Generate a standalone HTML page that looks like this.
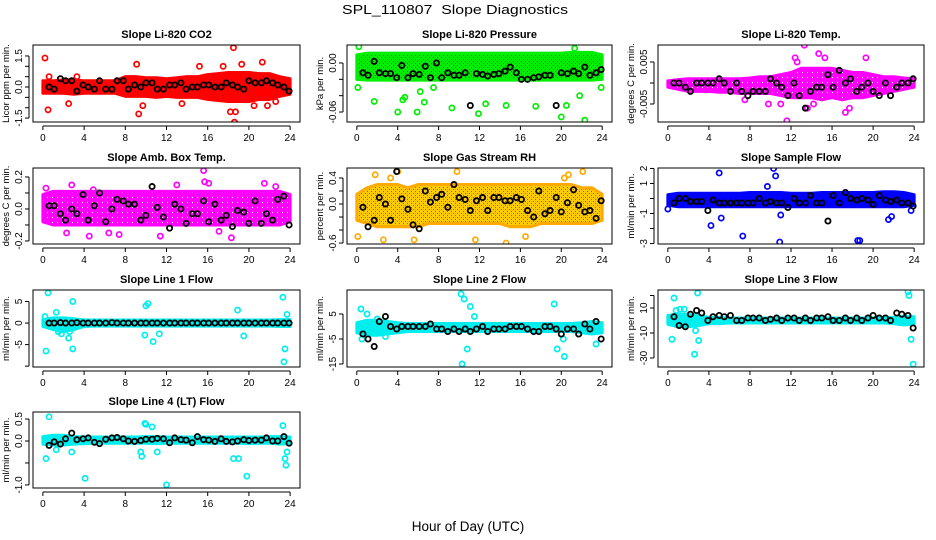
<!DOCTYPE html>
<html><head><meta charset="utf-8"><style>
html,body{margin:0;padding:0;background:#fff}
svg{display:block;font-family:"Liberation Sans",sans-serif}
</style></head><body>
<svg id="chart" width="936" height="540" viewBox="0 0 936 540">
<defs>
<pattern id="pat-green" width="4" height="4" patternUnits="userSpaceOnUse"><rect width="4" height="4" fill="#00ee00"/><rect x="1" y="1" width="1" height="1" fill="#007700"/><rect x="3" y="3" width="1" height="1" fill="#007700"/></pattern>
<pattern id="pat-orange" width="4" height="4" patternUnits="userSpaceOnUse"><rect width="4" height="4" fill="#ffcc00"/><rect x="1" y="1" width="1" height="1" fill="#ff3300"/><rect x="3" y="3" width="1" height="1" fill="#ff3300"/><rect x="3" y="1" width="1" height="1" fill="#ff9900"/></pattern>
<pattern id="pat-magenta" width="5" height="5" patternUnits="userSpaceOnUse"><rect width="5" height="5" fill="#ff00ff"/><rect x="2" y="2" width="1" height="1" fill="#ffffff"/></pattern>
</defs>
<text x="342" y="14" font-size="13" textLength="226" lengthAdjust="spacingAndGlyphs">SPL_110807&#160;&#160;Slope Diagnostics</text>
<text x="468" y="531" text-anchor="middle" font-size="13.5">Hour of Day (UTC)</text>
</svg>
<script>
const blackHours=[0.6,1.1,1.7,2.2,2.8,3.3,3.9,4.4,5,5.5,6.1,6.7,7.2,7.8,8.3,8.9,9.5,10,10.6,11.1,11.7,12.3,12.8,13.4,13.9,14.5,15,15.6,16.1,16.7,17.3,17.8,18.4,18.9,19.5,20,20.6,21.2,21.7,22.3,22.8,23.4,23.9];
const bandHours=[0,1,2,3,4,5,6,7,8,9,10,11,12,13,14,15,16,17,18,19,20,21,22,23,24];
const xTicks=[0,4,8,12,16,20,24];

const co2Black=[0,-0.1,0.4,0.3,0.3,-0.2,0.1,0,-0.1,0.3,-0.1,-0.1,0.3,0.3,-0.1,0.1,0,0.2,0.2,-0.1,-0.1,0.1,0.1,0.2,-0.1,0,0,0.1,0.1,0,0,0.2,0.1,0,-0.1,0.3,0.2,0.2,0.3,0.2,0.1,0,-0.2];
const co2Lo=[-0.3,-0.3,-0.3,-0.35,-0.3,-0.3,-0.3,-0.3,-0.45,-0.45,-0.45,-0.5,-0.45,-0.5,-0.5,-0.5,-0.6,-0.65,-0.7,-0.7,-0.7,-0.6,-0.6,-0.45,-0.35];
const co2Hi=[0.3,0.3,0.35,0.35,0.3,0.3,0.3,0.3,0.5,0.5,0.45,0.45,0.4,0.45,0.5,0.5,0.6,0.65,0.7,0.7,0.7,0.65,0.65,0.5,0.4];
const co2OutH=[0.2,0.6,0.5,2.5,3.3,9.1,9.3,9.7,13.5,15.2,17.5,18.2,18.5,18.6,18.7,19.3,20.5,21.3,21.8,22.6];
const co2OutV=[1.4,0.5,-1.1,-0.8,0.5,1.1,-1.3,-0.9,-0.8,1,1,-1.2,1.9,-1.7,-1.2,1.1,-0.9,1.2,-0.9,-0.7];

const presBlack=[-0.012,-0.015,0.002,-0.012,-0.013,-0.013,-0.018,-0.003,-0.018,-0.013,-0.014,-0.004,-0.018,0,-0.018,-0.012,-0.015,-0.015,-0.012,-0.052,-0.013,-0.014,-0.016,-0.014,-0.013,-0.01,-0.005,-0.012,-0.02,-0.02,-0.018,-0.017,-0.015,-0.015,-0.052,-0.012,-0.013,-0.01,-0.013,-0.005,-0.015,-0.012,-0.008];
const presLo=[-0.02,-0.021,-0.021,-0.021,-0.021,-0.021,-0.021,-0.021,-0.021,-0.021,-0.021,-0.021,-0.021,-0.021,-0.021,-0.021,-0.021,-0.021,-0.021,-0.021,-0.021,-0.021,-0.021,-0.021,-0.02];
const presHi=[0.01,0.012,0.012,0.012,0.012,0.012,0.012,0.012,0.012,0.012,0.012,0.012,0.012,0.012,0.012,0.012,0.012,0.012,0.012,0.012,0.012,0.013,0.013,0.013,0.01];
const presOutH=[0.2,0.1,1.7,4,4.7,4.5,5.9,6.2,6.6,7.5,9.3,11.9,12.6,14.6,17.5,20,20.5,21.3,21.8,22.3,23.9];
const presOutV=[0.02,-0.03,-0.047,-0.06,-0.042,-0.045,-0.06,-0.035,-0.048,-0.03,-0.055,-0.062,-0.05,-0.052,-0.053,-0.066,-0.052,0.018,-0.04,-0.07,-0.03];

const tempBlack=[0,0,-0.001,-0.002,0,0,0,0,0.001,0,-0.002,0,-0.002,-0.003,-0.002,-0.002,-0.002,0.001,0,-0.001,-0.003,0,-0.003,-0.006,-0.002,-0.001,-0.001,0.002,-0.001,0.003,0,0.001,-0.002,-0.001,0,-0.002,-0.003,0,-0.003,-0.001,0,0,0.001];
const tempLo=[-0.001,-0.0015,-0.002,-0.002,-0.002,-0.0022,-0.0022,-0.0025,-0.0025,-0.0025,-0.0025,-0.003,-0.0035,-0.0035,-0.0035,-0.004,-0.0035,-0.004,-0.0035,-0.0035,-0.003,-0.0025,-0.002,-0.0015,-0.001];
const tempHi=[0.0005,0.0008,0.001,0.001,0.001,0.001,0.001,0.001,0.0012,0.0015,0.0015,0.002,0.0025,0.0035,0.0035,0.0035,0.0035,0.003,0.0025,0.0025,0.002,0.0015,0.0015,0.0012,0.001];
const tempOutH=[7.5,9.8,11,11.6,12.4,13.3,13.6,14.2,14.7,15.3,17.3,17.7,19.3,12.6];
const tempOutV=[-0.004,-0.005,-0.005,-0.009,0.006,0.009,-0.006,-0.005,0.007,0.006,-0.007,-0.006,0.006,0.005];

const ambBlack=[0.02,0.02,-0.03,-0.07,0,-0.03,0.09,-0.07,0.02,0.1,-0.08,0,0.06,0.05,0.03,0.03,-0.07,-0.04,0.14,0.01,-0.05,-0.12,0.03,0,-0.09,-0.03,-0.03,0.05,-0.08,0.03,-0.07,-0.04,-0.11,-0.01,-0.02,-0.09,0.05,-0.09,-0.03,-0.07,0.06,0.08,-0.1];
const ambLo=[-0.08,-0.1,-0.1,-0.1,-0.1,-0.1,-0.1,-0.1,-0.1,-0.1,-0.1,-0.1,-0.1,-0.1,-0.1,-0.1,-0.1,-0.1,-0.1,-0.1,-0.1,-0.1,-0.1,-0.1,-0.08];
const ambHi=[0.09,0.11,0.11,0.11,0.11,0.11,0.11,0.11,0.11,0.11,0.11,0.11,0.11,0.11,0.11,0.11,0.11,0.11,0.11,0.11,0.11,0.11,0.11,0.11,0.09];
const ambOutH=[0.3,2.3,2.8,4.5,4.9,6.4,7.4,11.4,13,15.6,15.7,16.1,17.1,18.3,21.5,22.6];
const ambOutV=[0.13,-0.15,0.15,-0.17,0.12,-0.15,-0.16,-0.17,0.15,0.24,0.17,0.16,-0.14,-0.18,0.16,0.14];

const rhBlack=[-0.05,-0.35,-0.25,0.1,0,-0.25,0.5,0.08,-0.08,-0.32,-0.38,0.2,0.03,0.1,0.15,-0.05,0.3,0.1,0.07,-0.1,0.05,0.1,-0.1,0.1,0.1,0.05,0.05,0.1,0.07,-0.1,-0.2,0.2,-0.15,-0.1,0.1,-0.12,0.02,0.22,-0.02,-0.12,-0.1,-0.22,0.05];
const rhLo=[-0.25,-0.3,-0.35,-0.35,-0.35,-0.35,-0.35,-0.3,-0.3,-0.3,-0.3,-0.3,-0.3,-0.3,-0.3,-0.35,-0.35,-0.35,-0.3,-0.3,-0.3,-0.3,-0.3,-0.3,-0.25];
const rhHi=[0.15,0.25,0.3,0.3,0.3,0.25,0.3,0.3,0.3,0.3,0.3,0.3,0.3,0.3,0.3,0.3,0.3,0.3,0.3,0.3,0.3,0.3,0.25,0.25,0.15];
const rhOutH=[0.1,1.8,2.6,3.3,4,5.6,9.8,11.6,13.7,14.6,16.5,19.8,20.3,20.7,22.1];
const rhOutV=[-0.5,0.45,-0.55,0.4,0.5,-0.55,0.5,-0.55,0.6,-0.6,-0.5,-0.7,0.4,0.45,0.5];

const sampBlack=[-0.3,0,0,-0.2,-0.2,-0.2,-0.8,-0.1,-0.3,-0.3,-0.3,-0.3,-0.3,-0.3,-0.3,0,-0.3,-0.2,-0.3,-0.3,-0.6,0,-0.3,-0.3,0.2,-0.3,-0.3,-1.5,0.2,-0.3,0.4,0,-0.1,0,-0.1,-0.4,0.2,-0.1,-0.2,-0.1,-0.3,-0.3,-0.5];
const sampLo=[-0.45,-0.55,-0.55,-0.55,-0.55,-0.55,-0.55,-0.55,-0.55,-0.55,-0.55,-0.55,-0.55,-0.55,-0.55,-0.55,-0.55,-0.55,-0.55,-0.55,-0.55,-0.55,-0.55,-0.55,-0.45];
const sampHi=[0.25,0.35,0.35,0.35,0.35,0.35,0.35,0.35,0.4,0.4,0.4,0.4,0.35,0.35,0.35,0.4,0.4,0.4,0.4,0.4,0.4,0.45,0.45,0.4,0.25];
const sampOutH=[0,4.2,5,5.2,7.3,9.7,10.3,10.5,10.9,11,18.5,18.7,21.5,21.8,23.7];
const sampOutV=[-0.7,-1.8,1.7,-1.3,-2.5,0.8,2,1.5,-2.9,-1.1,-2.8,-2.8,-1.4,-1.2,-0.8];

const l1Black=[0,0,0.1,0,0,0.1,0,0,0,0,0,0.1,0,0,0,0,0,0,0,0,0,0,0,0,0,0,0,0,0,0,0,0,0,0,0,0,0,0,0,0,0,0,0];
const l1Lo=[-0.8,-1.5,-2,-1.5,-0.8,-0.7,-0.7,-0.7,-0.7,-0.7,-0.7,-0.7,-0.7,-0.7,-0.7,-0.7,-0.7,-0.7,-0.7,-0.7,-0.7,-0.7,-0.7,-0.8,-0.8];
const l1Hi=[0.8,1.2,1.2,1,0.7,0.7,0.7,0.7,0.7,0.7,0.7,0.7,0.7,0.7,0.7,0.7,0.7,0.7,0.7,0.7,0.7,0.7,0.7,0.8,0.8];
const l1OutH=[0.2,0.3,0.5,1.3,2.5,2.6,2.9,2.9,9.9,10,10.2,10.7,11.3,18.9,19.5,23.3,23.4,23.5,23.7,1.5,1.8];
const l1OutV=[1.5,-6.5,7,2.5,-3.5,-2,5,-6,-2.8,4,4.5,-4.3,-2.5,3,-3,6,-9,-6,2,-2,-2.5];

const l2Black=[-3,-5,-8,2,4,0,-1,0,0,0,0,0,1,-1,-1,-2,-1,-2,-1,-2,-1,0,-2,-1,-1,-1,0,0,0,-1,-2,-2,0,0,-1,-3,-1,-1,-3,1,-1,2,-5];
const l2Lo=[-2.5,-3.5,-3.5,-3,-2.5,-2,-2,-2,-2,-2,-2,-2,-2,-2,-2,-2,-2,-2,-2,-2,-2,-2,-2.5,-3,-2.5];
const l2Hi=[1.5,2.5,2.5,2,1.5,1.2,1.2,1.2,1.2,1.2,1.2,1.2,1.2,1.2,1.2,1.2,1.2,1.2,1.2,1.2,1.2,1.2,1.5,2,1.5];
const l2OutH=[0.4,0.5,1,1.1,2,2.8,10.2,10.5,10.8,11.1,11.5,19.6,20.2,20.3,19.3,23.4,10.3];
const l2OutV=[7,-5,5,-2,3,-4,13,11,-9,8,4,-9,-5,-12,9,-7,-15];

const l3Black=[3,-4,-5,5,8,6,0,3,4,3,4,0,0,2,2,2,0,1,2,0,2,2,0,2,0,2,2,3,0,0,2,0,2,0,2,4,2,2,0,6,5,4,-6];
const l3Lo=[-3,-5,-5,-4,-2.5,-2.5,-2,-2,-2,-2,-2,-2,-2,-2,-2,-2,-2,-2,-2,-2,-2,-2,-2.5,-3.5,-3];
const l3Hi=[4,5,5,4,2.5,2.5,2,2,2,2,2,2,2,2,2,2,2,2,2,2,2,2.5,2.5,3.5,3];
const l3OutH=[0.4,0.6,0.8,1.2,1.6,2.6,2.7,3,2.9,23.4,23.5,23.7,23.9];
const l3OutV=[-15,18,8,9,9,-27,-8,-16,22,23,20,-15,-35];

const l4Black=[-0.1,-0.02,-0.07,0.05,0.18,0.03,0.05,0.07,-0.03,-0.06,0.04,0.07,0.08,0.05,0,-0.01,0.01,0.04,0.04,0.06,0.05,-0.04,0.07,0.03,0.02,-0.04,0.1,0.03,0.02,-0.01,0.05,-0.01,-0.02,0,0.03,0.01,0.02,0.02,0.07,0,0,0.1,-0.05];
const l4Lo=[-0.07,-0.09,-0.09,-0.07,-0.06,-0.05,-0.05,-0.05,-0.05,-0.05,-0.05,-0.06,-0.05,-0.05,-0.05,-0.05,-0.05,-0.05,-0.05,-0.05,-0.06,-0.05,-0.05,-0.07,-0.06];
const l4Hi=[0.1,0.13,0.13,0.1,0.09,0.09,0.09,0.09,0.09,0.09,0.1,0.1,0.09,0.09,0.09,0.09,0.09,0.09,0.09,0.09,0.09,0.09,0.1,0.1,0.09];
const l4OutH=[0.3,0.6,1.3,2.8,4.1,9.9,10,10.6,11.1,9.5,9.6,12,18.5,19,19.8,23.3,23.5,23.6,23.7];
const l4OutV=[-0.4,0.55,-0.2,-0.25,-0.85,0.4,0.38,0.32,-0.25,-0.25,-0.35,-1,-0.4,-0.4,-0.8,0.35,-0.4,-0.55,-0.25];

const panels=[
 {id:'co2',title:'Slope Li-820 CO2',ylab:'Licor ppm per min.',col:'#ff0000',fill:'#ff0000',box:[33,45,300,122],yr:[-1.69,2.03],ticks:[-1.5,-1,-0.5,0,0.5,1,1.5],labels:[[-1.5,'-1.5'],[0,'0.0'],[1.5,'1.5']],b:co2Black,lo:co2Lo,hi:co2Hi,oh:co2OutH,ov:co2OutV},
 {id:'pressure',title:'Slope Li-820 Pressure',ylab:'kPa per min.',col:'#00ee00',fill:'url(#pat-green)',box:[347,45,612,122],yr:[-0.0722,0.022],ticks:[-0.06,-0.04,-0.02,0],labels:[[-0.06,'-0.06'],[0,'0.00']],b:presBlack,lo:presLo,hi:presHi,oh:presOutH,ov:presOutV},
 {id:'temp',title:'Slope Li-820 Temp.',ylab:'degrees C  per min.',col:'#ff00ff',fill:'url(#pat-magenta)',box:[658,45,924,122],yr:[-0.00929,0.00905],ticks:[-0.005,0,0.005],labels:[[-0.005,'-0.005'],[0.005,'0.005']],b:tempBlack,lo:tempLo,hi:tempHi,oh:tempOutH,ov:tempOutV},
 {id:'amb',title:'Slope Amb. Box Temp.',ylab:'degrees C per min.',col:'#ff00ff',fill:'url(#pat-magenta)',box:[33,168,300,244],yr:[-0.219,0.256],ticks:[-0.2,-0.1,0,0.1,0.2],labels:[[-0.2,'-0.2'],[0,'0.0'],[0.2,'0.2']],b:ambBlack,lo:ambLo,hi:ambHi,oh:ambOutH,ov:ambOutV},
 {id:'rh',title:'Slope Gas Stream RH',ylab:'percent per min.',col:'#ffaa00',fill:'url(#pat-orange)',box:[347,168,612,244],yr:[-0.615,0.554],ticks:[-0.6,-0.4,-0.2,0,0.2,0.4],labels:[[-0.6,'-0.6'],[0,'0.0'],[0.4,'0.4']],b:rhBlack,lo:rhLo,hi:rhHi,oh:rhOutH,ov:rhOutV},
 {id:'sample',title:'Slope Sample Flow',ylab:'ml/min per min.',col:'#0000ff',fill:'#0000ff',box:[658,168,924,244],yr:[-3.03,2.03],ticks:[-3,-2,-1,0,1,2],labels:[[-3,'-3'],[-1,'-1'],[1,'1'],[2,'2']],b:sampBlack,lo:sampLo,hi:sampHi,oh:sampOutH,ov:sampOutV},
 {id:'line1',title:'Slope Line 1 Flow',ylab:'ml/min per min.',col:'#00eeee',fill:'#00eeee',box:[33,290,300,367],yr:[-10.2,7.67],ticks:[-10,-5,0,5],labels:[[-5,'-5'],[0,'0'],[5,'5']],b:l1Black,lo:l1Lo,hi:l1Hi,oh:l1OutH,ov:l1OutV},
 {id:'line2',title:'Slope Line 2 Flow',ylab:'ml/min per min.',col:'#00eeee',fill:'#00eeee',box:[347,290,612,367],yr:[-16.2,14.6],ticks:[-15,-5,5],labels:[[-15,'-15'],[-5,'-5'],[5,'5']],b:l2Black,lo:l2Lo,hi:l2Hi,oh:l2OutH,ov:l2OutV},
 {id:'line3',title:'Slope Line 3 Flow',ylab:'ml/min per min.',col:'#00eeee',fill:'#00eeee',box:[658,290,924,367],yr:[-37.2,24.4],ticks:[-30,-10,10],labels:[[-30,'-30'],[-10,'-10'],[10,'10']],extra:[20],b:l3Black,lo:l3Lo,hi:l3Hi,oh:l3OutH,ov:l3OutV},
 {id:'line4',title:'Slope Line 4 (LT) Flow',ylab:'ml/min per min.',col:'#00eeee',fill:'#00eeee',box:[33,412,300,488],yr:[-1.07,0.66],ticks:[-1,-0.5,0,0.5],labels:[[-1,'-1.0'],[0,'0.0'],[0.5,'0.5']],b:l4Black,lo:l4Lo,hi:l4Hi,oh:l4OutH,ov:l4OutV}
];

const NS='http://www.w3.org/2000/svg';
const svg=document.getElementById('chart');
function mk(tag,attrs,parent){const e=document.createElementNS(NS,tag);for(const k in attrs)e.setAttribute(k,attrs[k]);(parent||svg).appendChild(e);return e;}

panels.forEach(p=>{
 const [x0,y0,x1,y1]=p.box;
 const xs=h=>x0+(h+0.96)/25.92*(x1-x0);
 const ys=v=>y1-(v-p.yr[0])/(p.yr[1]-p.yr[0])*(y1-y0);
 const g=mk('g',{});
 
 
 const t=mk('text',{x:(x0+x1)/2,y:y0-7,'text-anchor':'middle','font-size':'11','font-weight':'bold'},g);
 t.textContent=p.title;
 
 
 const cp=mk('clipPath',{id:'clip-'+p.id},g);
 mk('rect',{x:x0,y:y0,width:x1-x0,height:y1-y0},cp);
 const cg=mk('g',{'clip-path':'url(#clip-'+p.id+')'},g);
 let d='';
 bandHours.forEach((h,i)=>{d+=(i?'L':'M')+xs(h)+','+ys(p.hi[i]);});
 for(let i=bandHours.length-1;i>=0;i--)d+='L'+xs(bandHours[i])+','+ys(p.lo[i]);
 const band=mk('path',{d:d+'Z',fill:p.fill,stroke:p.col,'stroke-width':'3','stroke-linejoin':'round'},cg);
 
 
 p.oh.forEach((h,i)=>{
  const c=mk('circle',{cx:xs(h),cy:ys(p.ov[i]),r:2.6,fill:'none',stroke:p.col,'stroke-width':'1.7'},cg);
  
  
 });
 blackHours.forEach((h,i)=>{
  const c=mk('circle',{cx:xs(h),cy:ys(p.b[i]),r:2.6,fill:'none',stroke:'#000','stroke-width':'1.8'},cg);
  
  
 });
 const box=mk('rect',{x:x0,y:y0,width:x1-x0,height:y1-y0,fill:'none',stroke:'#000','stroke-width':'1'},g);
 
 
 mk('line',{x1:xs(0),x2:xs(24),y1:y1+4,y2:y1+4,stroke:'#000'},g);
 xTicks.forEach(h=>{
  mk('line',{x1:xs(h),x2:xs(h),y1:y1+4,y2:y1+8,stroke:'#000'},g);
  const tl=mk('text',{x:xs(h),y:y1+19,'text-anchor':'middle','font-size':'10'},g);
  tl.textContent=h;
  
  
 });
 const tk=p.ticks.concat(p.extra||[]);
 const ymin=Math.min(...tk),ymax=Math.max(...tk);
 mk('line',{x1:x0-4,x2:x0-4,y1:ys(ymin),y2:ys(ymax),stroke:'#000'},g);
 tk.forEach(v=>{mk('line',{x1:x0-8,x2:x0-4,y1:ys(v),y2:ys(v),stroke:'#000'},g);});
 p.labels.forEach(([v,s])=>{
  const tx=x0-11,ty=ys(v);
  const tl=mk('text',{x:tx,y:ty,'text-anchor':'middle','font-size':'10',transform:'rotate(-90 '+tx+' '+ty+')'},g);
  tl.textContent=s;
  
  
 });
 const lx=x0-24,ly=(y0+y1)/2;
 const yl=mk('text',{x:lx,y:ly,'text-anchor':'middle','font-size':'9.5',transform:'rotate(-90 '+lx+' '+ly+')'},g);
 yl.textContent=p.ylab;
 
 
});
</script>
</body></html>
